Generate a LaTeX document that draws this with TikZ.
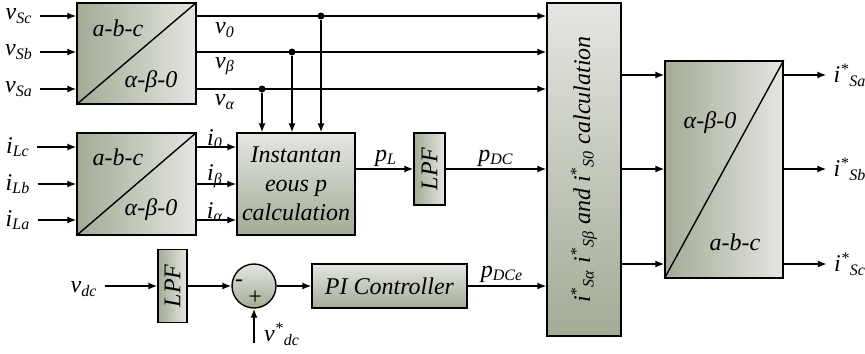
\documentclass[tikz,border=0pt]{standalone}
\usepackage{fontspec}
\setmainfont{Liberation Serif}
\usetikzlibrary{arrows.meta,positioning}
\definecolor{boxdark}{RGB}{163,171,150}
\definecolor{boxlight}{RGB}{228,230,225}
\tikzset{
  blk/.style={draw,line width=0.7pt,inner sep=0pt},
  lr/.style={left color=boxdark,right color=boxlight},
  tb/.style={top color=boxlight,bottom color=boxdark},
  dot/.style={circle,fill,inner sep=0pt,minimum size=3.5pt},
}
\begin{document}
\begin{tikzpicture}[x=0.5pt,y=-0.5pt,line width=0.7pt,>={Latex[length=4.5pt,width=3.5pt]},
  every node/.style={font=\fontsize{12}{14.5}\selectfont\itshape}]
\useasboundingbox (0,0) rectangle (865,353);

\node[blk,lr,minimum width=59.5pt,minimum height=50.5pt] (abcv) at (136.5,53.5) {};
\node[blk,lr,minimum width=59.5pt,minimum height=51pt,below of=abcv,node distance=65.25pt] (abci) {};
\node[blk,tb,minimum width=59pt,minimum height=51pt,right of=abci,node distance=79.75pt,align=center] (inst) {Instantan\\eous p\\calculation};
\node[blk,lr,minimum width=15.5pt,minimum height=36pt] (lpfa) at (429.5,169) {\rotatebox{90}{LPF}};
\node[blk,tb,minimum width=37pt,minimum height=166.5pt] (calc) at (584,169.5) {\rotatebox{90}{i\textsuperscript{*}\textsubscript{Sα} i\textsuperscript{*}\textsubscript{Sβ} and i\textsuperscript{*}\textsubscript{S0} calculation}};
\node[blk,lr,minimum width=59pt,minimum height=108.5pt] (abco) at (724,169.5) {};
\node[blk,lr,minimum width=14.5pt,minimum height=36.5pt] (lpfb) at (172.5,286) {\rotatebox{90}{LPF}};
\node[blk,tb,circle,minimum size=22pt] (sum) at (254,286) {};
\node[blk,tb,minimum width=77.5pt,minimum height=22pt] (pi) at (389.5,286) {PI Controller};

\draw (abcv.south west) -- (abcv.north east);
\draw (abci.south west) -- (abci.north east);
\draw (abco.south west) -- (abco.north east);
\node (abcva) at (118,28) {a-b-c};
\node (abcvb) at (151,82) {α-β-0};
\node (abcia) at (118,157) {a-b-c};
\node (abcib) at (151,210) {α-β-0};
\node (abcoa) at (710,123) {α-β-0};
\node (abcob) at (735,242) {a-b-c};

\node (vsc) at (19,16) {v\textsubscript{Sc}};
\node (vsb) at (19,52) {v\textsubscript{Sb}};
\node (vsa) at (19,89) {v\textsubscript{Sa}};
\draw[->] (vsc.east) -- (vsc.east -| abcv.west);
\draw[->] (vsb.east) -- (vsb.east -| abcv.west);
\draw[->] (vsa.east) -- (vsa.east -| abcv.west);

\node[dot] (d0) at (321,16) {};
\node[dot] (db) at (292,52) {};
\node[dot] (da) at (262,89) {};
\draw[->] (abcv.east |- d0) -- (calc.west |- d0);
\draw[->] (abcv.east |- db) -- (calc.west |- db);
\draw[->] (abcv.east |- da) -- (calc.west |- da);
\draw[->] (d0) -- (d0 |- inst.north);
\draw[->] (db) -- (db |- inst.north);
\draw[->] (da) -- (da |- inst.north);
\node (v0) at (225,30) {v\textsubscript{0}};
\node (vb) at (225,66) {v\textsubscript{β}};
\node (va) at (225,102) {v\textsubscript{α}};

\node (ilc) at (18,147) {i\textsubscript{Lc}};
\node (ilb) at (18,184) {i\textsubscript{Lb}};
\node (ila) at (18,220) {i\textsubscript{La}};
\draw[->] (ilc.east) -- (ilc.east -| abci.west);
\draw[->] (ilb.east) -- (ilb.east -| abci.west);
\draw[->] (ila.east) -- (ila.east -| abci.west);
\draw[->] (abci.east |- ilc) -- (inst.west |- ilc);
\draw[->] (abci.east |- ilb) -- (inst.west |- ilb);
\draw[->] (abci.east |- ila) -- (inst.west |- ila);
\node (i0) at (215,139) {i\textsubscript{0}};
\node (ib) at (215,176) {i\textsubscript{β}};
\node (ia) at (215,212) {i\textsubscript{α}};

\draw[->] (inst.east |- lpfa) -- (lpfa.west);
\node (pl) at (386,158) {p\textsubscript{L}};
\draw[->] (lpfa.east) -- (calc.west |- lpfa);
\node (pdc) at (496,158) {p\textsubscript{DC}};

\node (vdc) at (84,289) {v\textsubscript{dc}};
\draw[->] (vdc.east |- lpfb) -- (lpfb.west);
\draw[->] (lpfb.east) -- (sum.west);
\node (minus) at (239,283) {-};
\node (plus) at (255,298) {+};
\coordinate (vref) at (254,343);
\draw[->] (vref) -- (sum.south);
\node (vdcref) at (282,334) {v\textsuperscript{*}\textsubscript{dc}};
\draw[->] (sum.east) -- (pi.west);
\draw[->] (pi.east) -- (calc.west |- pi);
\node (pdce) at (502,274) {p\textsubscript{DCe}};

\node (isa) at (850,75) {i\textsuperscript{*}\textsubscript{Sa}};
\node (isb) at (850,169) {i\textsuperscript{*}\textsubscript{Sb}};
\node (isc) at (850,264) {i\textsuperscript{*}\textsubscript{Sc}};
\draw[->] (calc.east |- isa) -- (abco.west |- isa);
\draw[->] (calc.east |- isb) -- (abco.west |- isb);
\draw[->] (calc.east |- isc) -- (abco.west |- isc);
\draw[->] (abco.east |- isa) -- (isa.west);
\draw[->] (abco.east |- isb) -- (isb.west);
\draw[->] (abco.east |- isc) -- (isc.west);

\end{tikzpicture}
\end{document}
